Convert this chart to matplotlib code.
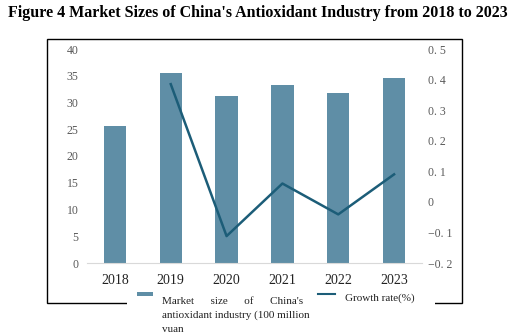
import matplotlib
matplotlib.use("Agg")
import matplotlib.pyplot as plt
from matplotlib.patches import Rectangle
from matplotlib.lines import Line2D

# data
years = ["2018", "2019", "2020", "2021", "2022", "2023"]
market_size = [25.7, 35.5, 31.3, 33.2, 31.7, 34.6]
growth_years = ["2019", "2020", "2021", "2022", "2023"]
growth_rate = [0.385, -0.112, 0.060, -0.041, 0.090]

left_ticks = [0, 5, 10, 15, 20, 25, 30, 35, 40]
right_ticks = [-0.2, -0.1, 0, 0.1, 0.2, 0.3, 0.4, 0.5]
right_labels = ["\u22120. 2", "\u22120. 1", "0", "0. 1", "0. 2", "0. 3", "0. 4", "0. 5"]

BAR_COLOR = "#5f8ea6"
LINE_COLOR = "#1c5d78"
TICK_COLOR = "#595959"
SERIF = ["Liberation Serif", "DejaVu Serif"]

plt.rcParams["font.family"] = SERIF

W, H = 515, 335
fig = plt.figure(figsize=(W / 100, H / 100), dpi=100)

# axes box in pixels: x 87..422, y 49..263
ax = fig.add_axes([87 / W, 1 - 263 / H, (422 - 87) / W, (263 - 49) / H])
x = list(range(len(years)))
ax.bar(x, market_size, width=0.4, color=BAR_COLOR, zorder=2)
ax.set_xlim(-0.5, 5.5)
ax.set_ylim(0, 40)
ax.set_yticks(left_ticks)
ax.set_xticks(x)
ax.set_xticklabels(years, fontsize=10, color="#222222")
ax.tick_params(axis="y", length=0, labelsize=8.5, labelcolor=TICK_COLOR, pad=6)
ax.tick_params(axis="x", length=0, pad=8)
for s in ["top", "right", "left"]:
    ax.spines[s].set_visible(False)
ax.spines["bottom"].set_color("#d9d9d9")

ax2 = ax.twinx()
gx = [years.index(y) for y in growth_years]
ax2.plot(gx, growth_rate, color=LINE_COLOR, linewidth=1.8, zorder=3)
ax2.set_ylim(-0.2, 0.5)
ax2.set_yticks(right_ticks)
ax2.set_yticklabels(right_labels)
ax2.tick_params(axis="y", length=0, labelsize=8.5, labelcolor=TICK_COLOR, pad=4)
for s in ax2.spines.values():
    s.set_visible(False)

# title
fig.text(0.5, 1 - 13 / H, "Figure 4 Market Sizes of China's Antioxidant Industry from 2018 to 2023",
         ha="center", va="center", fontsize=11.5, fontweight="bold", color="black")

# outer frame
fig.patches.append(Rectangle((47 / W, 1 - 303 / H), (462 - 47) / W, (303 - 39) / H,
                             transform=fig.transFigure, fill=False,
                             edgecolor="black", linewidth=1.0))
# legend backdrop breaking the frame
fig.patches.append(Rectangle((127 / W, 1 - 312 / H), (435 - 127) / W, 22 / H,
                             transform=fig.transFigure, facecolor="white",
                             edgecolor="none", zorder=5))

# legend handles
fig.patches.append(Rectangle((137 / W, 1 - 296 / H), 16 / W, 4 / H,
                             transform=fig.transFigure, facecolor=BAR_COLOR,
                             edgecolor="none", zorder=6))
fig.lines.append(Line2D([318 / W, 335 / W], [1 - 294 / H, 1 - 294 / H],
                        transform=fig.transFigure, color=LINE_COLOR,
                        linewidth=1.5, zorder=6))

LEG_FS = 8
fig.text(162 / W, 1 - 301 / H, "Market      size      of      China's",
         ha="left", va="center", fontsize=LEG_FS, color="#222222", zorder=7)
fig.text(162 / W, 1 - 315 / H, "antioxidant industry (100 million",
         ha="left", va="center", fontsize=LEG_FS, color="#222222", zorder=7)
fig.text(162 / W, 1 - 329 / H, "vuan",
         ha="left", va="center", fontsize=LEG_FS, color="#222222", zorder=7)
fig.text(345 / W, 1 - 298 / H, "Growth rate(%)",
         ha="left", va="center", fontsize=LEG_FS, color="#222222", zorder=7)

fig.savefig("out.png", dpi=100)
